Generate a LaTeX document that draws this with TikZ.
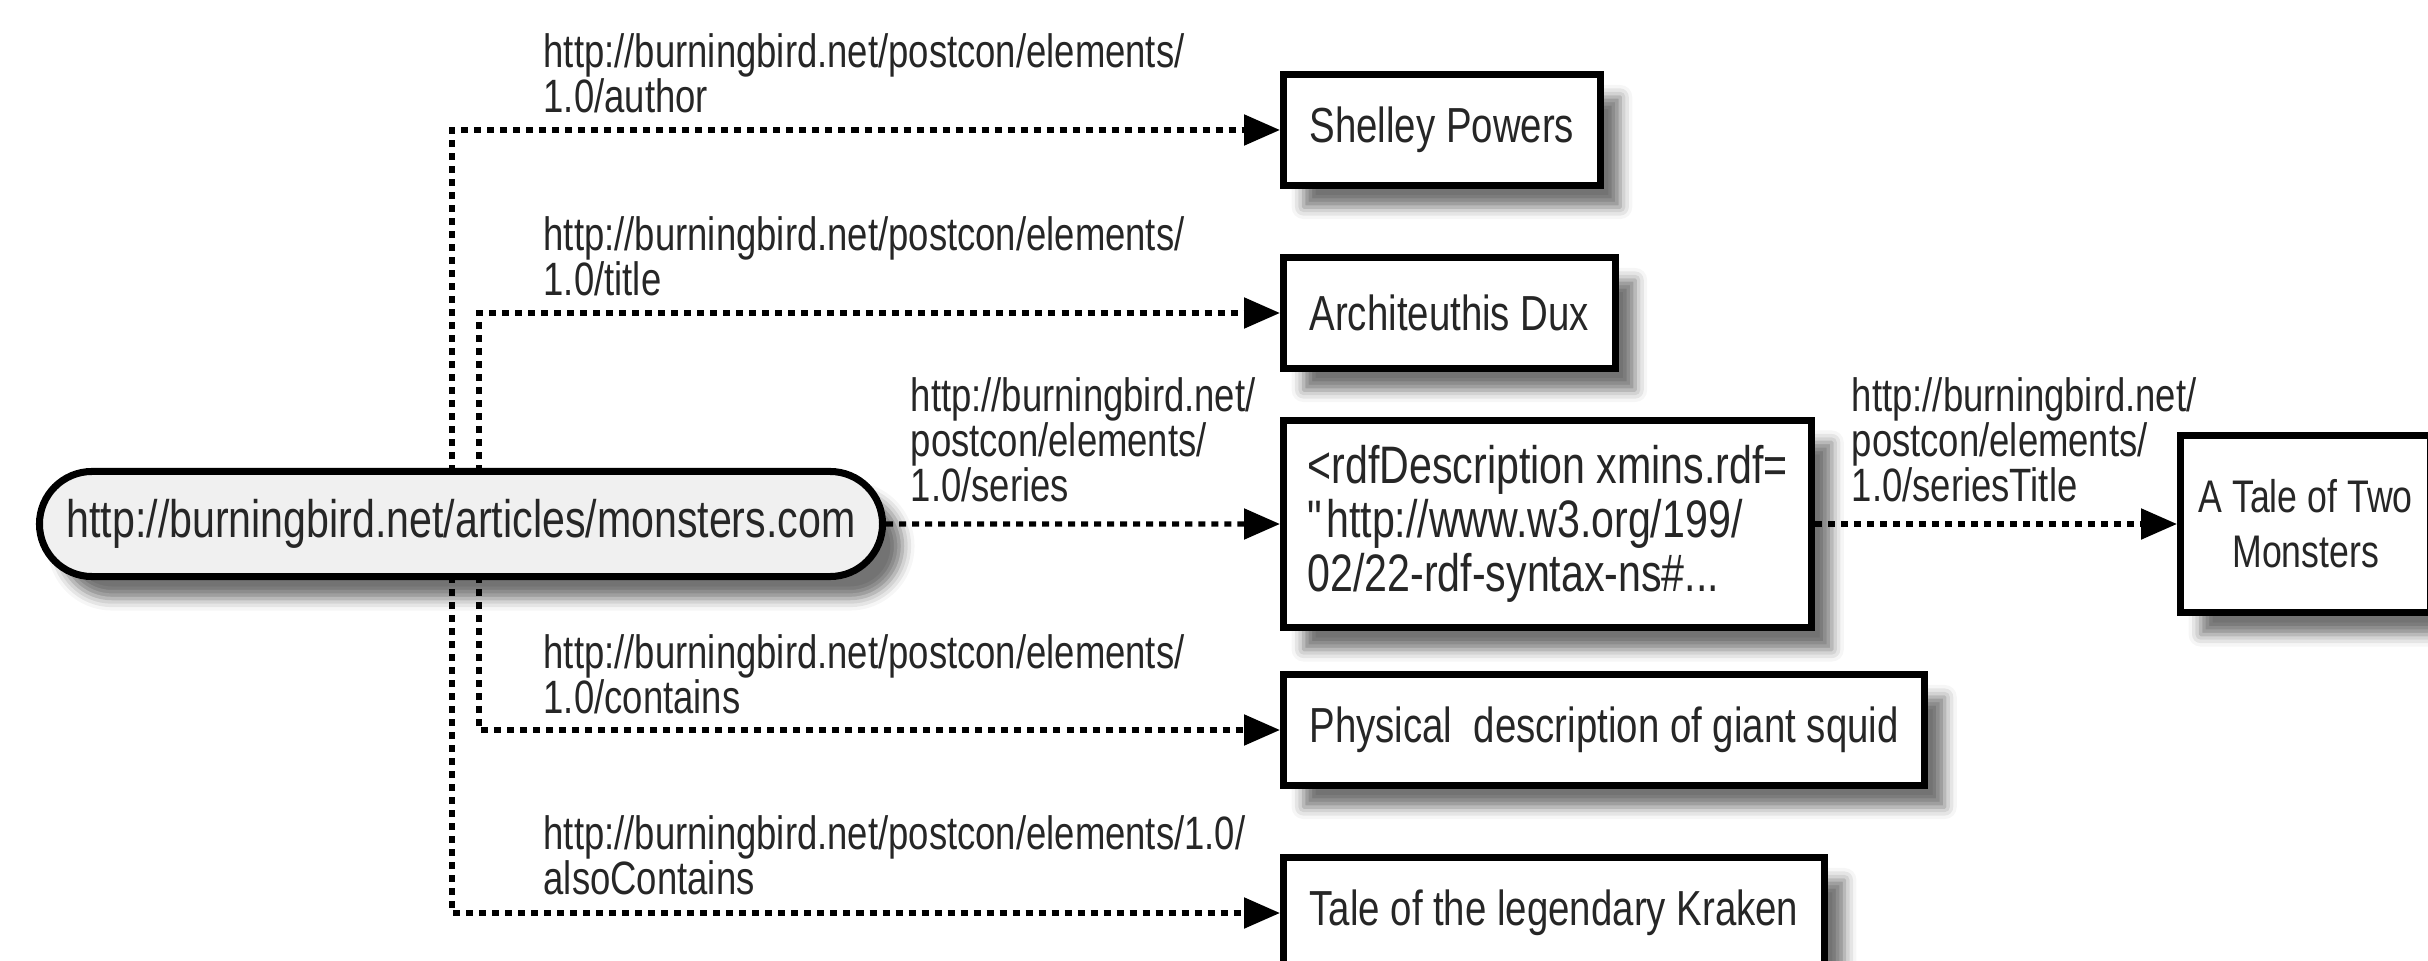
\documentclass[tikz,border=0pt]{standalone}
\usepackage{fontspec}
\setmainfont{Liberation Sans}[FakeStretch=0.78]
\usetikzlibrary{arrows.meta,positioning,shapes.misc,shadows.blur,backgrounds}

\begin{document}
\begin{tikzpicture}[
  x=0.01cm, y=-0.01cm,
  link/.style={line width=1.5pt, dash pattern=on 0.07cm off 0.06cm, -{Triangle[length=0.36cm, width=0.3cm]}},
  shade/.style={blur shadow={shadow xshift=0.2cm, shadow yshift=-0.22cm, shadow blur radius=0.12cm, shadow opacity=55}},
  page/.style={rounded rectangle, draw, line width=2pt, fill=black!6, shade, text=black!85,
    minimum width=8.66cm, minimum height=1.05cm, font=\fontsize{15}{18}\selectfont},
  box/.style={draw, line width=2pt, fill=white, shade, anchor=west, align=left, text=black!85,
    inner xsep=0.26cm, minimum height=1.1cm, font=\fontsize{14}{16}\selectfont},
  lbl/.style={anchor=south west, align=left, inner sep=0pt, text=black!85,
    font=\fontsize{13.3}{12.8}\selectfont}
]
\useasboundingbox (0,0) rectangle (2428,961);

% resource and its property values
\node[page] (page) at (461,524) {http://burningbird.net/articles/monsters.com};
\node[box] (author) at (1280,130) {Shelley Powers};
\node[box] (title) at (1280,313) {Architeuthis Dux};
\node[box, minimum height=2.07cm, inner xsep=0.24cm, font=\fontsize{15}{15.4}\selectfont] (desc) at (1280,524)
  {<rdfDescription xmins.rdf=\\\textquotedbl http://www.w3.org/199/\\02/22-rdf-syntax-ns\#...};
\node[box, align=center, minimum width=2.5cm, minimum height=1.77cm, inner xsep=0.1cm,
  font=\fontsize{13}{15.6}\selectfont] (twomon) at (2177,524) {A Tale of Two\\Monsters};
\node[box] (squid) at (1280,730) {Physical\ \ description of giant squid};
\node[box] (kraken) at (1280,913) {Tale of the legendary Kraken};

% predicate labels
\node[lbl] (lauthor) at (543,114) {http://burningbird.net/postcon/elements/\\1.0/author};
\node[lbl] (ltitle) at (543,297) {http://burningbird.net/postcon/elements/\\1.0/title};
\node[lbl] (lseries) at (910,503) {http://burningbird.net/\\postcon/elements/\\1.0/series};
\node[lbl] (lseriest) at (1851,503) {http://burningbird.net/\\postcon/elements/\\1.0/seriesTitle};
\node[lbl] (lcontains) at (543,715) {http://burningbird.net/postcon/elements/\\1.0/contains};
\node[lbl] (lalso) at (543,896) {http://burningbird.net/postcon/elements/1.0/\\alsoContains};

\coordinate (trunkA) at (452,524);
\coordinate (trunkB) at (479,524);
\begin{scope}[on background layer]
\draw[link] (trunkA) |- (author);
\draw[link] (trunkA) |- (kraken);
\draw[link] (trunkB) |- (title);
\draw[link] (trunkB) |- (squid);
\end{scope}
\draw[link] (page) -- (desc);
\draw[link] (desc) -- (twomon);
\end{tikzpicture}
\end{document}
